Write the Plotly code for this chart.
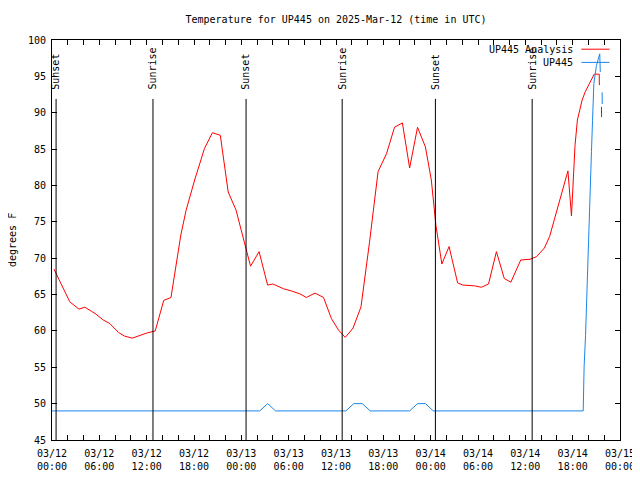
import plotly.graph_objects as go

# ---- data ----
analysis_time = [
    "2025-03-12 00:15", "2025-03-12 02:15", "2025-03-12 03:25", "2025-03-12 04:10",
    "2025-03-12 05:00", "2025-03-12 05:35", "2025-03-12 06:30", "2025-03-12 07:20",
    "2025-03-12 08:25", "2025-03-12 09:10", "2025-03-12 10:10", "2025-03-12 11:05",
    "2025-03-12 12:00", "2025-03-12 13:05", "2025-03-12 14:10", "2025-03-12 15:05",
    "2025-03-12 16:20", "2025-03-12 17:00", "2025-03-12 18:05", "2025-03-12 19:20",
    "2025-03-12 20:20", "2025-03-12 21:20", "2025-03-12 22:20", "2025-03-12 23:20",
    "2025-03-13 00:35", "2025-03-13 01:10", "2025-03-13 02:15", "2025-03-13 03:20",
    "2025-03-13 04:00", "2025-03-13 05:20", "2025-03-13 06:20", "2025-03-13 07:25",
    "2025-03-13 08:15", "2025-03-13 09:20", "2025-03-13 10:25", "2025-03-13 11:25",
    "2025-03-13 12:20", "2025-03-13 13:10", "2025-03-13 14:10", "2025-03-13 15:10",
    "2025-03-13 16:15", "2025-03-13 17:20", "2025-03-13 18:25", "2025-03-13 19:25",
    "2025-03-13 20:25", "2025-03-13 21:20", "2025-03-13 22:20", "2025-03-13 23:20",
    "2025-03-14 00:05", "2025-03-14 00:40", "2025-03-14 01:25", "2025-03-14 02:20",
    "2025-03-14 03:25", "2025-03-14 04:05", "2025-03-14 05:35", "2025-03-14 06:25",
    "2025-03-14 07:20", "2025-03-14 08:20", "2025-03-14 09:20", "2025-03-14 10:10",
    "2025-03-14 11:25", "2025-03-14 12:35", "2025-03-14 13:25", "2025-03-14 14:25",
    "2025-03-14 15:05", "2025-03-14 15:55", "2025-03-14 17:24", "2025-03-14 17:51",
    "2025-03-14 18:06", "2025-03-14 18:18", "2025-03-14 18:36", "2025-03-14 19:12",
    "2025-03-14 19:36", "2025-03-14 20:44", "2025-03-14 21:22", "2025-03-14 21:23",
    "2025-03-14 21:30", "2025-03-14 21:39", "2025-03-14 21:40",
]
analysis_temp = [
    68.5, 64.0, 63.0, 63.25,
    62.7, 62.3, 61.5, 61.0,
    59.8, 59.3, 59.0, 59.4,
    59.7, 60.0, 64.2, 64.6,
    73.2, 76.6, 80.75, 85.1,
    87.25, 86.9, 79.1, 76.6,
    71.4, 68.9, 70.9, 66.3,
    66.45, 65.8, 65.5, 65.1,
    64.6, 65.2, 64.6, 61.7,
    60.1, 59.1, 60.4, 63.3,
    72.2, 81.9, 84.4, 88.0,
    88.6, 82.4, 88.0, 85.3,
    80.75, 74.5, 69.2, 71.6,
    66.6, 66.3, 66.2, 66.0,
    66.45, 70.9, 67.2, 66.7,
    69.75, 69.85, 70.2, 71.4,
    73.0, 76.2, 82.0, 75.8,
    82.1, 85.5, 89.0, 91.75,
    92.9, 95.3, 95.3, 93.8,
    None, 90.8, 89.4,
]

obs_time = [
    "2025-03-12 00:00", "2025-03-13 02:20", "2025-03-13 03:20", "2025-03-13 04:20",
    "2025-03-13 13:15", "2025-03-13 14:15", "2025-03-13 15:20", "2025-03-13 16:20",
    "2025-03-13 21:20", "2025-03-13 22:20", "2025-03-13 23:20", "2025-03-14 00:20",
    "2025-03-14 19:20", "2025-03-14 19:27", "2025-03-14 19:38", "2025-03-14 19:45",
    "2025-03-14 19:58", "2025-03-14 20:10", "2025-03-14 20:23", "2025-03-14 20:31",
    "2025-03-14 20:41", "2025-03-14 21:01", "2025-03-14 21:26", "2025-03-14 21:30",
    "2025-03-14 21:36", "2025-03-14 21:44", "2025-03-14 21:45",
]
obs_temp = [
    49, 49, 50, 49,
    49, 50, 50, 49,
    49, 50, 50, 49,
    49, 55.1, 59.4, 63.3,
    71.5, 80.4, 84.7, 88.9,
    94.0, 96.5, 98.1, 95.6,
    None, 92.8, 91.2,
]

sun_times = ["2025-03-12 00:31", "2025-03-12 12:48", "2025-03-13 00:36",
             "2025-03-13 12:47", "2025-03-14 00:36", "2025-03-14 12:52"]
sun_labels = ["Sunset", "Sunrise", "Sunset", "Sunrise", "Sunset", "Sunrise"]
sun_line_top = 91.9
sun_text_base = 92.9

x_range = ["2025-03-12 00:00", "2025-03-15 00:00"]
y_range = [45, 100]

title_text = "Temperature for UP445 on 2025-Mar-12 (time in UTC)"
y_label = "degrees F"
series_names = ["UP445 Analysis", "UP445"]
RED = "#ff0000"
BLUE = "#1a86e8"
FONT = "DejaVu Sans Mono"

# page body has an 8px margin, so the figure is sized/offset to compensate
FIG_W, FIG_H = 632, 472

fig = go.Figure()
fig.add_trace(go.Scatter(x=analysis_time, y=analysis_temp, mode="lines",
                         name=series_names[0], line=dict(color=RED, width=1),
                         connectgaps=False, showlegend=False))
fig.add_trace(go.Scatter(x=obs_time, y=obs_temp, mode="lines",
                         name=series_names[1], line=dict(color=BLUE, width=1),
                         connectgaps=False, showlegend=False))

shapes = []
annotations = []
for t, lab in zip(sun_times, sun_labels):
    shapes.append(dict(type="line", xref="x", yref="y", x0=t, x1=t,
                       y0=y_range[0], y1=sun_line_top,
                       line=dict(color="black", width=1)))
    annotations.append(dict(x=t, y=sun_text_base, xref="x", yref="y",
                            text=lab, textangle=-90, showarrow=False,
                            xanchor="center", yanchor="bottom",
                            font=dict(family=FONT, size=10, color="black")))

# custom legend (text left of sample, as in the reference)
leg_rows = [(0.977, series_names[0], RED), (0.944, series_names[1], BLUE)]
for yy, name, col in leg_rows:
    annotations.append(dict(x=0.921, y=yy, xref="paper", yref="paper",
                            text=name, showarrow=False, xanchor="right",
                            yanchor="middle",
                            font=dict(family=FONT, size=10, color="black")))
    shapes.append(dict(type="line", xref="paper", yref="paper",
                       x0=0.932, x1=0.9815, y0=yy, y1=yy,
                       line=dict(color=col, width=1)))

annotations.append(dict(x=-0.0704, y=0.5, xref="paper", yref="paper",
                        text=y_label, textangle=-90, showarrow=False,
                        xanchor="center", yanchor="middle",
                        font=dict(family=FONT, size=10, color="black")))

fig.update_layout(
    width=FIG_W, height=FIG_H,
    margin=dict(l=44, r=19.5, t=32, b=40, autoexpand=False),
    paper_bgcolor="white", plot_bgcolor="white",
    font=dict(family=FONT, size=10, color="black"),
    title=dict(text=title_text, x=0.5, xref="paper", y=1 - 11 / FIG_H,
               yref="container", xanchor="center", yanchor="middle",
               font=dict(family=FONT, size=10, color="black")),
    shapes=shapes, annotations=annotations,
    showlegend=False,
)
fig.update_xaxes(
    type="date", range=x_range, dtick=6 * 3600 * 1000,
    tick0="2025-03-12 00:00", tickformat="%m/%d<br>%H:%M",
    ticks="inside", ticklen=5, tickcolor="black", ticklabelstandoff=4,
    minor=dict(dtick=2 * 3600 * 1000, ticks="inside", ticklen=5,
               tickcolor="black", showgrid=False),
    showgrid=False, zeroline=False, automargin=False,
    showline=True, linecolor="black", linewidth=1, mirror="allticks",
    tickfont=dict(family=FONT, size=10, color="black"),
)
fig.update_yaxes(
    range=y_range, dtick=5, tick0=45,
    ticks="inside", ticklen=5, tickcolor="black", ticklabelstandoff=3,
    showgrid=False, zeroline=False, automargin=False,
    showline=True, linecolor="black", linewidth=1, mirror="allticks",
    tickfont=dict(family=FONT, size=10, color="black"),
)

fig.write_html("out.html")
